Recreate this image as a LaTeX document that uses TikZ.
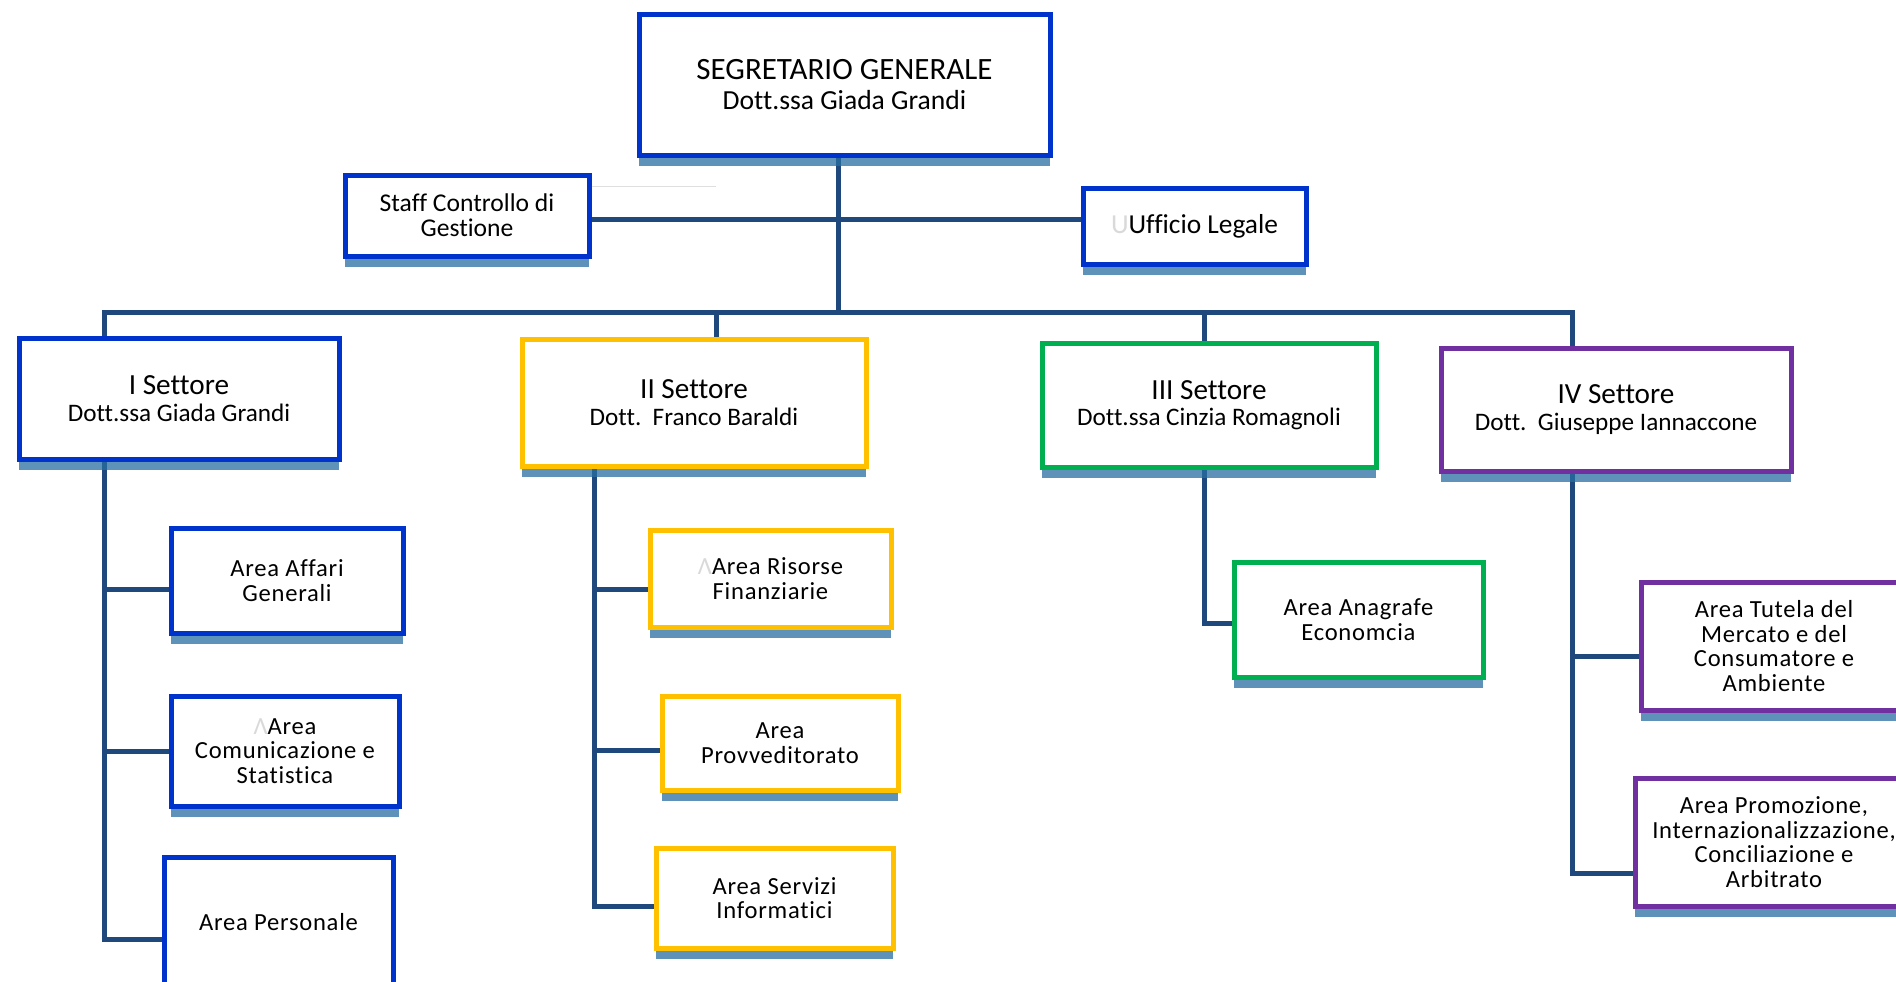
\documentclass[tikz,border=0pt]{standalone}
\usepackage{fontspec}
\setmainfont{Carlito}[Ligatures={NoCommon}]
\newfontfamily\areafont[LetterSpace=3, Ligatures={NoCommon}]{Carlito}
\usetikzlibrary{calc,shadows,backgrounds}

\definecolor{boxblue}{RGB}{0,51,204}
\definecolor{boxyellow}{RGB}{255,192,0}
\definecolor{boxgreen}{RGB}{0,176,80}
\definecolor{boxpurple}{RGB}{112,48,160}
\definecolor{linkblue}{RGB}{31,73,125}
\definecolor{shadeblue}{RGB}{40,110,160}

\newcommand\ghost[1]{{\color{gray!30}#1}}
\newcommand\subname{\fontsize{12.6}{13.2}\selectfont}

\tikzset{
    box/.style={draw=#1, line width=2.5pt, fill=white, align=center, inner sep=2pt,
        drop shadow={shadow xshift=0pt, shadow yshift=-5.5pt, fill=shadeblue, opacity=.75}},
    wh/.style 2 args={minimum width=#1*0.5pt, minimum height=#2*0.5pt},
    headtext/.style={font=\fontsize{14.6}{13.2}\selectfont},
    areatext/.style={font=\areafont\fontsize{12.3}{12.3}\selectfont},
    link/.style={draw=linkblue, line width=2.5pt},
}

\begin{document}
\begin{tikzpicture}[x=0.5pt, y=-0.5pt]
    \useasboundingbox (0,0) rectangle (1896,981);
    \clip (0,0) rectangle (1896,981);

    \node[box=boxblue, wh={411}{141}, font=\fontsize{13.8}{14.6}\selectfont] (seg) at (844.5,84.5)
        {{\fontsize{15.5}{14.6}\selectfont SEGRETARIO GENERALE}\\Dott.ssa Giada Grandi};
    \node[box=boxblue, wh={244}{81}, font=\fontsize{12.8}{12.6}\selectfont] (staff) at (467,215.5)
        {Staff Controllo di\\Gestione};
    \node[box=boxblue, wh={223}{76}, font=\fontsize{13.7}{14}\selectfont] (legal) at (1194.5,226)
        {\ghost{U}Ufficio Legale};
    \draw[gray!25, line width=0.6pt] ($(staff.north east)+(0,14)$) -- ++(124,0);

    \node[box=boxblue, wh={320}{121}, headtext] (s1) at (179,398.5)
        {I Settore\\\subname Dott.ssa Giada Grandi};
    \node[box=boxyellow, wh={344}{127}, headtext] (s2) at (694,402.5)
        {II Settore\\\subname Dott.~~Franco Baraldi};
    \node[box=boxgreen, wh={334}{124}, headtext] (s3) at (1209,405)
        {III Settore\\\subname Dott.ssa Cinzia Romagnoli};
    \node[box=boxpurple, wh={350}{123}, headtext] (s4) at (1616,409.5)
        {IV Settore\\\subname Dott.~~Giuseppe Iannaccone};

    \node[box=boxblue, wh={232}{105}, areatext] (a11) at (287,580.5) {Area Affari\\Generali};
    \node[box=boxblue, wh={228}{110}, areatext] (a12) at (285,751) {\ghost{Λ}Area\\Comunicazione e\\Statistica};
    \node[box=boxblue, wh={229}{130}, areatext] (a13) at (278.5,922) {Area Personale};

    \node[box=boxyellow, wh={241}{97}, areatext] (a21) at (770.5,578.5) {\ghost{Λ}Area Risorse\\Finanziarie};
    \node[box=boxyellow, wh={236}{94}, areatext] (a22) at (780,743) {Area\\Provveditorato};
    \node[box=boxyellow, wh={237}{100}, areatext] (a23) at (774.5,898) {Area Servizi\\Informatici};

    \node[box=boxgreen, wh={249}{115}, areatext] (a31) at (1358.5,619.5) {Area Anagrafe\\Economcia};

    \node[box=boxpurple, wh={266}{128}, areatext] (a41) at (1774,646)
        {Area Tutela del\\Mercato e del\\Consumatore e\\Ambiente};
    \node[box=boxpurple, wh={278}{128}, areatext] (a42) at (1774,842)
        {Area Promozione,\\Internazionalizzazione,\\Conciliazione e\\Arbitrato};

    \coordinate (hub) at (838,312);
    \coordinate (mid) at (838,219);
    \coordinate (d1) at (104,312);
    \coordinate (d2) at (716,312);
    \coordinate (d3) at (1204,312);
    \coordinate (d4) at (1572,312);
    \coordinate (e1) at (104,939);
    \coordinate (e2) at (594,906);
    \coordinate (e3) at (1204,623);
    \coordinate (e4) at (1572,873);

    \begin{pgfonlayer}{background}
        \draw[link] (hub |- seg.south) -- (hub);
        \draw[link] (mid -| staff.east) -- (mid -| legal.west);
        \draw[link] (d1 |- s1.north) -- (d1) -- (d4) -- (d4 |- s4.north);
        \draw[link] (d2) -- (d2 |- s2.north);
        \draw[link] (d3) -- (d3 |- s3.north);
        \foreach \s/\e/\a in {s1/e1/a13, s2/e2/a23, s3/e3/a31, s4/e4/a42}
            \draw[link] (\e |- \s.south) -- (\e) -- (\e -| \a.west);
        \foreach \a/\e/\dy in {a11/e1/8.5, a12/e1/0, a21/e2/10.5, a22/e2/7, a41/e4/10}
            \draw[link] ($(\a.west)+(0,\dy)$) -| (\e);
    \end{pgfonlayer}

\end{tikzpicture}
\end{document}
